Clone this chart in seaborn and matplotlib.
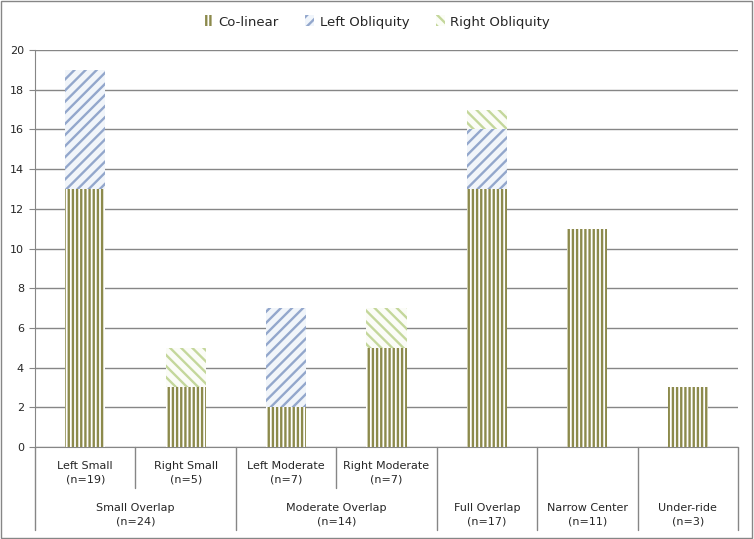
import matplotlib
matplotlib.use("Agg")
import matplotlib.pyplot as plt
import matplotlib.patches as mpatches
import pandas as pd
import seaborn as sns

sub_labels = ["Left Small\n(n=19)", "Right Small\n(n=5)", "Left Moderate\n(n=7)",
              "Right Moderate\n(n=7)", "", "", ""]
group_labels = ["Small Overlap\n(n=24)", "Moderate Overlap\n(n=14)", "Full Overlap\n(n=17)",
                "Narrow Center\n(n=11)", "Under-ride\n(n=3)"]
group_spans = [(0, 2), (2, 4), (4, 5), (5, 6), (6, 7)]
categories = ["LS", "RS", "LM", "RM", "FO", "NC", "UR"]
colinear = [13, 3, 2, 5, 13, 11, 3]
left_obl = [6, 0, 5, 0, 3, 0, 0]
right_obl = [0, 2, 0, 2, 1, 0, 0]

series = ["Co-linear", "Left Obliquity", "Right Obliquity"]
hatch_col = ["#8c8a4c", "#93a7cc", "#c4d79b"]
face_col = ["white", "#f0f5fb", "#fbfdf6"]
hatches = ["||||", "///", "\\\\\\"]

sns.set_style("white")
plt.rcParams["font.family"] = ["DejaVu Sans"]
plt.rcParams["hatch.linewidth"] = 1.7

fig = plt.figure(figsize=(7.54, 5.39), dpi=100)
ax = fig.add_axes([35 / 754, 1 - 447 / 539, 703 / 754, 397 / 539])

df = pd.DataFrame({"cat": categories, "c": colinear, "l": left_obl, "r": right_obl})
# stacked look: draw cumulative totals from the top segment down
cum = [df["c"] + df["l"] + df["r"], df["c"] + df["l"], df["c"]]
for k, vals in zip([2, 1, 0], cum):
    sns.barplot(x=df["cat"], y=vals, ax=ax, color=face_col[k], width=0.4,
                edgecolor=hatch_col[k], linewidth=0, hatch=hatches[k], zorder=3,
                order=categories)

ax.set_ylim(0, 20)
ax.set_xlim(-0.5, 6.5)
ax.set_yticks(range(0, 21, 2))
ax.yaxis.grid(True, color="#868686", linewidth=1)
ax.set_axisbelow(True)
ax.set_xlabel("")
ax.set_ylabel("")
ax.set_xticks([])
for s in ["top", "right"]:
    ax.spines[s].set_visible(False)
for s in ["left", "bottom"]:
    ax.spines[s].set_color("#868686")
ax.tick_params(axis="y", left=True, length=4, color="#868686", labelsize=8, pad=4)

# multi-level category axis
trans = ax.get_xaxis_transform()
ppx = 1 / 397
for x in [0.5, 2.5]:
    ax.plot([x, x], [0, -41 * ppx], transform=trans, color="#868686", lw=1, clip_on=False)
for i in range(4):
    ax.text(i, -26 * ppx, sub_labels[i], transform=trans, ha="center", va="center",
            fontsize=8, linespacing=1.5)
for x in [-0.5, 1.5, 3.5, 4.5, 5.5, 6.5]:
    ax.plot([x, x], [0, -83 * ppx], transform=trans, color="#868686", lw=1, clip_on=False)
for (a, b), lab in zip(group_spans, group_labels):
    ax.text((a + b - 1) / 2, -68 * ppx, lab, transform=trans, ha="center", va="center",
            fontsize=8, linespacing=1.5)

handles = [mpatches.Patch(facecolor=face_col[k], edgecolor=hatch_col[k], linewidth=0,
                          hatch=hatches[k], label=series[k]) for k in range(3)]
fig.legend(handles=handles, loc="center", bbox_to_anchor=(0.5, 1 - 22 / 539), ncol=3,
           frameon=False, fontsize=9.5, handlelength=0.7, handleheight=0.9,
           columnspacing=2.0, handletextpad=0.4)

fig.patches.append(mpatches.Rectangle((0.001, 0.001), 0.997, 0.997, transform=fig.transFigure,
                                      fill=False, edgecolor="#868686", lw=1))
fig.savefig("out.png", dpi=100)
